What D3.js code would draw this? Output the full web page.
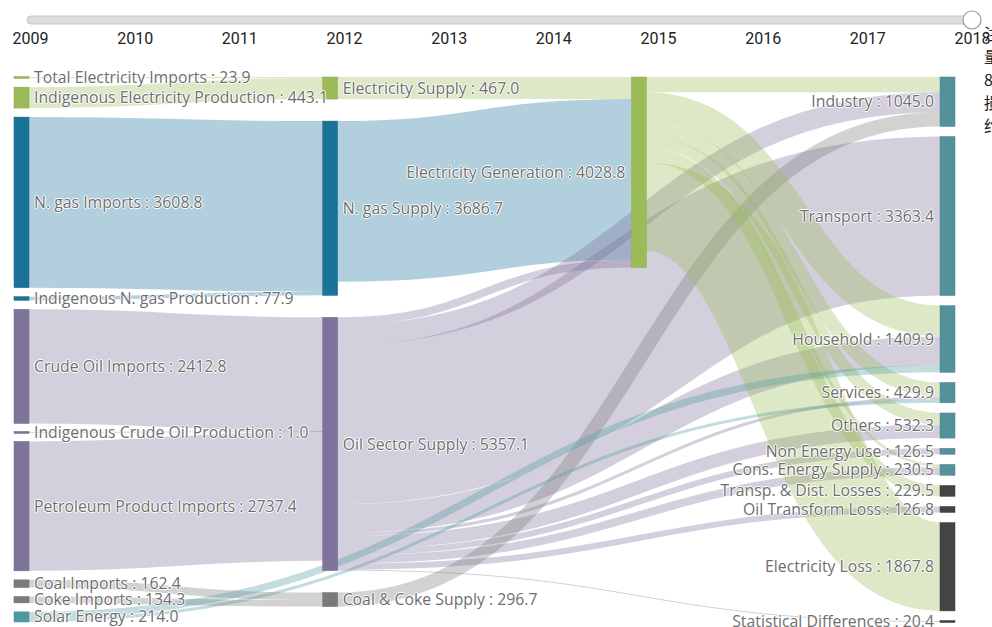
<!DOCTYPE html>
<html><head><meta charset="utf-8">
<script src="https://cdn.jsdelivr.net/npm/d3@7/dist/d3.min.js"></script>
<style>
body{margin:0;background:#fff;overflow:hidden}
svg{display:block}
.lbl{font-family:"Open Sans","Noto Sans",sans-serif;font-size:15.8px;fill:#6e6e6e;
 text-shadow:0 1px 0 #fff,1px 0 0 #fff,0 -1px 0 #fff,-1px 0 0 #fff;}
.yr text{font-family:Roboto,"DejaVu Sans Condensed",sans-serif;font-size:16px;fill:#222}
.note{font-family:"Noto Sans CJK SC",sans-serif;font-size:16px;fill:#222}
</style></head><body>
<svg id="chart" width="992" height="627"></svg>
<script>
// ---------- data ----------
const years = [2009,2010,2011,2012,2013,2014,2015,2016,2017,2018];
const selectedYear = 2018;

const nodeNames = [
  "Total Electricity Imports","Indigenous Electricity Production","N. gas Imports",
  "Indigenous N. gas Production","Crude Oil Imports","Indigenous Crude Oil Production",
  "Petroleum Product Imports","Coal Imports","Coke Imports","Solar Energy",
  "Electricity Supply","N. gas Supply","Oil Sector Supply","Coal & Coke Supply",
  "Electricity Generation",
  "Industry","Transport","Household","Services","Others","Non Energy use",
  "Cons. Energy Supply","Transp. & Dist. Losses","Oil Transform Loss",
  "Electricity Loss","Statistical Differences"
];
const nodeColumn = [0,0,0,0,0,0,0,0,0,0, 1,1,1,1, 2, 3,3,3,3,3,3,3,3,3,3,3];
const nodeGroup = ["elec","elec","gas","gas","oil","oil","oil","coal","coal","solar",
  "elec","gas","oil","coal","elec",
  "use","use","use","use","use","use","use","loss","loss","loss","loss"];
const groupColor = {elec:"#9bbb59", gas:"#1b7398", oil:"#7d739b", coal:"#7a7a7a",
  solar:"#4f9aa0", use:"#55919a", loss:"#444444"};

const linkSource = [
  "Total Electricity Imports","Indigenous Electricity Production","N. gas Imports",
  "Indigenous N. gas Production","Crude Oil Imports","Indigenous Crude Oil Production",
  "Petroleum Product Imports","Coal Imports","Coke Imports",
  "Electricity Supply","N. gas Supply","Oil Sector Supply",
  "Oil Sector Supply","Oil Sector Supply","Oil Sector Supply","Oil Sector Supply",
  "Oil Sector Supply","Oil Sector Supply","Oil Sector Supply","Oil Sector Supply","Oil Sector Supply",
  "Coal & Coke Supply",
  "Electricity Generation","Electricity Generation","Electricity Generation","Electricity Generation",
  "Electricity Generation","Electricity Generation","Electricity Generation",
  "Solar Energy","Solar Energy"
];
const linkTarget = [
  "Electricity Supply","Electricity Supply","N. gas Supply",
  "N. gas Supply","Oil Sector Supply","Oil Sector Supply",
  "Oil Sector Supply","Coal & Coke Supply","Coal & Coke Supply",
  "Electricity Generation","Electricity Generation","Electricity Generation",
  "Industry","Transport","Household","Services",
  "Others","Non Energy use","Cons. Energy Supply","Oil Transform Loss","Statistical Differences",
  "Industry",
  "Industry","Household","Services","Others",
  "Cons. Energy Supply","Transp. & Dist. Losses","Electricity Loss",
  "Household","Services"
];
const linkValue = [
  23.9,443.1,3608.8,
  77.9,2412.8,1.0,
  2737.4,162.4,134.3,
  467.0,3400.0,161.8,
  428.3,3363.4,609.9,65.9,
  282.3,126.5,171.8,126.8,20.4,
  296.7,
  320.0,650.0,300.0,250.0,
  58.7,229.5,1867.8,
  150.0,64.0
];
const noteChars = ["注","量","8","损","约"];

// ---------- build graph ----------
const W = 992, H = 627;
const svg = d3.select("#chart");
const nodes = nodeNames.map((name,i)=>({name, index:i, col:nodeColumn[i],
  color:groupColor[nodeGroup[i]], sourceLinks:[], targetLinks:[]}));
const byName = new Map(nodes.map(n=>[n.name,n]));
const links = linkValue.map((v,i)=>({index:i, value:v,
  source:byName.get(linkSource[i]), target:byName.get(linkTarget[i])}));
links.forEach(l=>{l.source.sourceLinks.push(l); l.target.targetLinks.push(l);});
nodes.forEach(n=>{
  n.value = Math.max(d3.sum(n.sourceLinks,l=>l.value), d3.sum(n.targetLinks,l=>l.value));
});

// ---------- layout ----------
const yTop = 77, yBot = 622, nodePad = 9, maxGap = 22, nodeW = 15;
const xCol = d3.scalePoint().domain([0,1,2,3]).range([14, 940]);
const cols = d3.groups(nodes, d=>d.col).sort((a,b)=>a[0]-b[0]).map(d=>d[1]);
const ky = d3.min(cols, c => (yBot - yTop - (c.length-1)*nodePad) / d3.sum(c, n=>n.value));
const yScale = d3.scaleLinear().domain([0,1]).range([0, ky]);
cols.forEach(c=>{
  const total = d3.sum(c, n=>yScale(n.value));
  const gap = c.length>1 ? Math.min((yBot-yTop-total)/(c.length-1), maxGap) : 0;
  let y = yTop;
  c.forEach(n=>{
    n.x0 = xCol(n.col); n.x1 = n.x0 + nodeW;
    n.y0 = y; n.y1 = y + yScale(n.value); y = n.y1 + gap;
  });
});
links.forEach(l=>{ l.width = yScale(l.value); });
nodes.forEach(n=>{
  n.sourceLinks.sort((a,b)=>(a.target.y0-b.target.y0)||(a.index-b.index));
  n.targetLinks.sort((a,b)=>(a.source.y0-b.source.y0)||(a.index-b.index));
  let y = n.y0;
  n.sourceLinks.forEach(l=>{ l.y0 = y + l.width/2; y += l.width; });
  y = n.y0;
  n.targetLinks.forEach(l=>{ l.y1 = y + l.width/2; y += l.width; });
});

// ---------- links ----------
const linkPath = d3.linkHorizontal()
  .source(d=>[d.source.x1, d.y0]).target(d=>[d.target.x0, d.y1]);
svg.append("g").attr("fill","none")
  .selectAll("path").data(links).join("path")
  .attr("d", linkPath)
  .attr("stroke", d=>d.source.color)
  .attr("stroke-opacity", 0.34)
  .attr("stroke-width", d=>Math.max(1, d.width));

// ---------- nodes ----------
svg.append("g").selectAll("rect").data(nodes).join("rect")
  .attr("x", d=>d.x0).attr("width", nodeW)
  .attr("y", d=>{const h=d.y1-d.y0; return h<2 ? (d.y0+d.y1)/2-1 : d.y0;})
  .attr("height", d=>Math.max(2, d.y1-d.y0))
  .attr("fill", d=>d.color)
  .attr("stroke", d=>d3.rgb(d.color).darker(0.3))
  .attr("stroke-width", 0.5);

// ---------- labels ----------
const fmt = d3.format(".1f");
svg.append("g").selectAll("text").data(nodes).join("text")
  .attr("class","lbl")
  .attr("x", d=>d.x0 < W/2 ? d.x1 + 5 : d.x0 - 6)
  .attr("y", d=>(d.y0+d.y1)/2)
  .attr("dy","0.35em")
  .attr("text-anchor", d=>d.x0 < W/2 ? "start" : "end")
  .text(d=>`${d.name} : ${fmt(d.value)}`);

// ---------- year slider ----------
const xYear = d3.scalePoint().domain(years).range([30, 972]);
const slider = svg.append("g");
slider.append("rect")
  .attr("x", xYear(years[0]) - 3).attr("y", 16)
  .attr("width", xYear(years[years.length-1]) - xYear(years[0]) + 3).attr("height", 8)
  .attr("rx", 4).attr("fill", "#dcdcdc").attr("stroke", "#c6c6c6");
const axis = svg.append("g").attr("class","yr").attr("transform","translate(0,33)")
  .call(d3.axisBottom(xYear).tickSize(0).tickPadding(0).tickFormat(d3.format("d")));
axis.select(".domain").remove();
slider.append("circle")
  .attr("cx", xYear(selectedYear)).attr("cy", 20).attr("r", 9)
  .attr("fill","#fff").attr("stroke","#9a9a9a").attr("stroke-width",1.2);

// ---------- clipped side note ----------
svg.append("text").attr("class","note")
  .selectAll("tspan").data(noteChars).join("tspan")
  .attr("x", 984).attr("y", (d,i)=>40 + i*23).text(d=>d);
</script>
</body></html>
